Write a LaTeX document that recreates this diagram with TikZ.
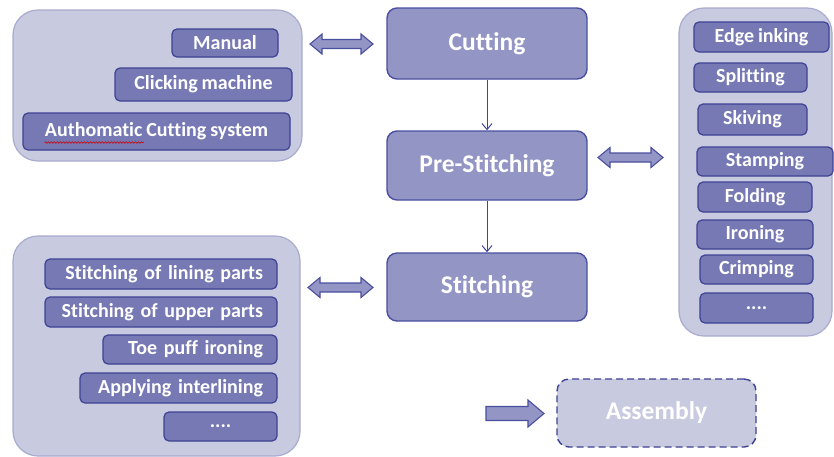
\documentclass[tikz,border=0pt]{standalone}
\usepackage{fontspec}
\setmainfont[Ligatures={NoCommon}, WordSpace=0.85]{Carlito}
\usetikzlibrary{arrows.meta,decorations.pathmorphing}
\definecolor{mainfill}{HTML}{9395C4}
\definecolor{mainline}{HTML}{4A4FA0}
\definecolor{itemfill}{HTML}{7679B3}
\definecolor{itemline}{HTML}{3E4292}
\definecolor{contfill}{HTML}{C8CAE0}
\definecolor{contline}{HTML}{A9ABD0}
\definecolor{thinarrow}{HTML}{3F44A0}
\tikzset{
  mainbox/.style={draw=mainline, fill=mainfill, line width=1.4pt, rounded corners=10pt,
    inner sep=0pt, text=white, font=\fontsize{25.5}{28}\selectfont\bfseries},
  itembox/.style={draw=itemline, fill=itemfill, line width=1.2pt, rounded corners=5pt,
    inner sep=0pt, text=white, font=\fontsize{20}{22}\selectfont\bfseries},
  contbox/.style={draw=contline, fill=contfill, line width=1.2pt, rounded corners=25pt, inner sep=0pt},
  asmbox/.style={draw=itemline, fill=contfill, line width=1.4pt, dashed, dash pattern=on 7pt off 4pt,
    rounded corners=12pt, inner sep=0pt, text=white, font=\fontsize{25.5}{28}\selectfont\bfseries},
  blk/.style={draw=mainline, fill=mainfill, line width=1.1pt, line join=miter},
  thin/.style={draw=thinarrow, line width=1pt, -{Straight Barb[length=6pt,width=10pt]}},
  squiggle/.style={draw=red!80!black, line width=0.6pt, decorate,
    decoration={snake, amplitude=0.8pt, segment length=3pt}},
}
\newcommand\dblarr[3]{%
  \draw[blk] (#1,#3) -- ({#1+12},{#3-10}) -- ({#1+12},{#3-4.5}) -- ({#2-12},{#3-4.5})
   -- ({#2-12},{#3-10}) -- (#2,#3) -- ({#2-12},{#3+10}) -- ({#2-12},{#3+4.5})
   -- ({#1+12},{#3+4.5}) -- ({#1+12},{#3+10}) -- cycle;}
\begin{document}
\begin{tikzpicture}[x=1pt,y=-1pt]
\useasboundingbox (0,0) rectangle (834,456);
% containers
\node[contbox, minimum width=289pt, minimum height=151pt] (c1) at (157.5,85.5) {};
\node[contbox, minimum width=153pt, minimum height=328pt] (c2) at (755.5,172) {};
\node[contbox, minimum width=287pt, minimum height=220pt] (c3) at (156.5,346) {};
% main nodes
\node[mainbox, minimum width=200pt, minimum height=71pt] (cut) at (487,43.5) {Cutting};
\node[mainbox, minimum width=200pt, minimum height=69pt] (pre) at (487,165.5) {Pre-Stitching};
\node[mainbox, minimum width=200pt, minimum height=68pt] (sti) at (487,287) {Stitching};
\node[asmbox, minimum width=199pt, minimum height=68pt] (asm) at (656.5,413) {Assembly};
% cutting items
\node[itembox, minimum width=106pt, minimum height=28pt] (man) at (225,43) {Manual};
\node[itembox, minimum width=177pt, minimum height=33pt] (cli) at (203.5,84.5) {Clicking machine};
\node[itembox, minimum width=267pt, minimum height=37pt] (aut) at (156.5,131.5) {Authomatic Cutting system};
% pre-stitching items
\node[itembox, minimum width=135pt, minimum height=30pt] (edg) at (761.5,37) {Edge inking};
\node[itembox, minimum width=113pt, minimum height=29pt] (spl) at (750.5,77.5) {Splitting};
\node[itembox, minimum width=109pt, minimum height=31pt] (ski) at (752.5,119.5) {Skiving};
\node[itembox, minimum width=136pt, minimum height=29pt] (sta) at (765,161.5) {Stamping};
\node[itembox, minimum width=114pt, minimum height=30pt] (fol) at (755,197) {Folding};
\node[itembox, minimum width=116pt, minimum height=29pt] (iro) at (755,234.5) {Ironing};
\node[itembox, minimum width=113pt, minimum height=29pt] (cri) at (756.5,269.5) {Crimping};
\node[itembox, minimum width=113pt, minimum height=30pt] (dt2) at (756.5,308) {....};
% stitching items
\node[itembox, minimum width=232pt, minimum height=30pt, text width=204pt, align=right] (lin) at (161,274) {Stitching of lining parts};
\node[itembox, minimum width=232pt, minimum height=30pt, text width=204pt, align=right] (upp) at (161,312) {Stitching of upper parts};
\node[itembox, minimum width=174pt, minimum height=29pt, text width=146pt, align=right] (toe) at (190,349.5) {Toe puff ironing};
\node[itembox, minimum width=197pt, minimum height=30pt, text width=169pt, align=right] (app) at (178.5,388) {Applying interlining};
\node[itembox, minimum width=113pt, minimum height=29pt] (dt3) at (220.5,426.5) {....};
% spelling underline
\draw[squiggle] ([xshift=-112pt,yshift=-11pt]aut.center) -- ([xshift=-13pt,yshift=-11pt]aut.center);
% thin arrows
\draw[thin] (cut.south) -- (pre.north);
\draw[thin] (pre.south) -- (sti.north);
% block arrows
\dblarr{310}{373}{44}
\dblarr{598}{663}{157.5}
\dblarr{308}{373}{287.5}
\draw[blk] (486,406.5) -- (528,406.5) -- (528,400) -- (544,413.5) -- (528,427) -- (528,420.5) -- (486,420.5) -- cycle;
\end{tikzpicture}
\end{document}
